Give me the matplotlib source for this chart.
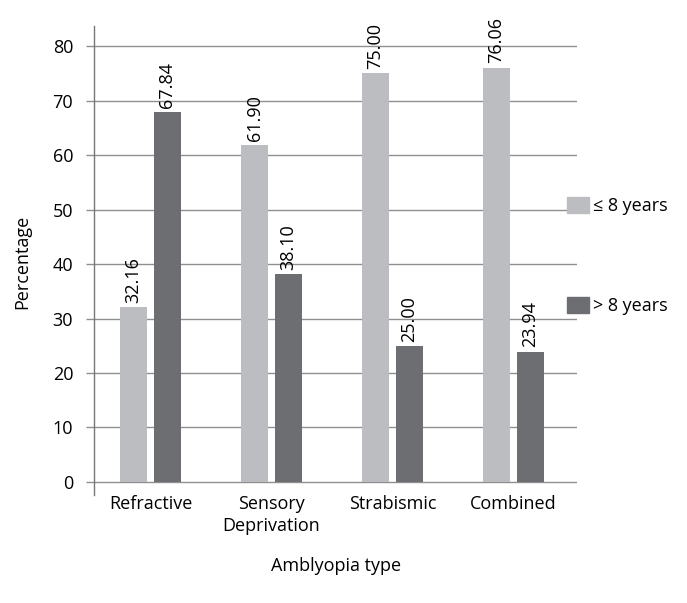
import matplotlib
matplotlib.use("Agg")
import matplotlib.pyplot as plt
import numpy as np
from matplotlib.patches import Patch

plt.rcParams['font.family'] = ['Open Sans', 'DejaVu Sans']

# data
categories = ['Refractive', 'Sensory\nDeprivation', 'Strabismic', 'Combined']
under_8 = [32.16, 61.90, 75.00, 76.06]
over_8 = [67.84, 38.10, 25.00, 23.94]
series_labels = ['\u2264 8 years', '> 8 years']
y_ticks = [0, 10, 20, 30, 40, 50, 60, 70, 80]

light = '#bcbdc0'
dark = '#6d6e71'
grid_col = '#8f8f8f'
fs = 13

W, H = 687, 603
fig = plt.figure(figsize=(W / 100, H / 100), dpi=100)
ax = fig.add_axes([94 / W, 1 - 495 / H, (577 - 94) / W, (495 - 26) / H])

x = np.arange(len(categories))
bw = 0.223
off = 0.14
b1 = ax.bar(x - off, under_8, bw, color=light, zorder=3)
b2 = ax.bar(x + off, over_8, bw, color=dark, zorder=3)

for bars, vals in [(b1, under_8), (b2, over_8)]:
    for b, v in zip(bars, vals):
        ax.annotate('%.2f' % v, (b.get_x() + b.get_width() / 2, v),
                    xytext=(0, 3), textcoords='offset points',
                    rotation=90, ha='center', va='bottom', fontsize=fs)

ax.set_xlim(-0.467, 3.525)
ax.set_ylim(-2.4, 83.7)
ax.set_yticks(y_ticks)
ax.tick_params(axis='y', length=6, width=1, color=grid_col, pad=9, labelsize=fs)
for t in y_ticks:
    ax.axhline(t, color=grid_col, lw=1, zorder=1)

ax.set_xticks(x)
ax.set_xticklabels(categories, fontsize=fs, linespacing=1.3, va='top')
ax.tick_params(axis='x', length=0, pad=0)

for s in ['top', 'right', 'bottom']:
    ax.spines[s].set_visible(False)
ax.spines['left'].set_color('#777777')
ax.spines['left'].set_linewidth(1)

fig.text(22 / W, 1 - 262 / H, 'Percentage', rotation=90, ha='center', va='center', fontsize=fs)
fig.text(336 / W, 1 - 566 / H, 'Amblyopia type', ha='center', va='center', fontsize=fs)

handles = [Patch(color=light), Patch(color=dark)]
ax.legend(handles, series_labels, loc='upper left',
          bbox_to_anchor=(567 / W, 1 - 197 / H), bbox_transform=fig.transFigure,
          frameon=False, borderpad=0, fontsize=fs, handlelength=1.2, handleheight=1.0,
          handletextpad=0.25, labelspacing=4.5, borderaxespad=0)

fig.savefig('out.png', dpi=100)
